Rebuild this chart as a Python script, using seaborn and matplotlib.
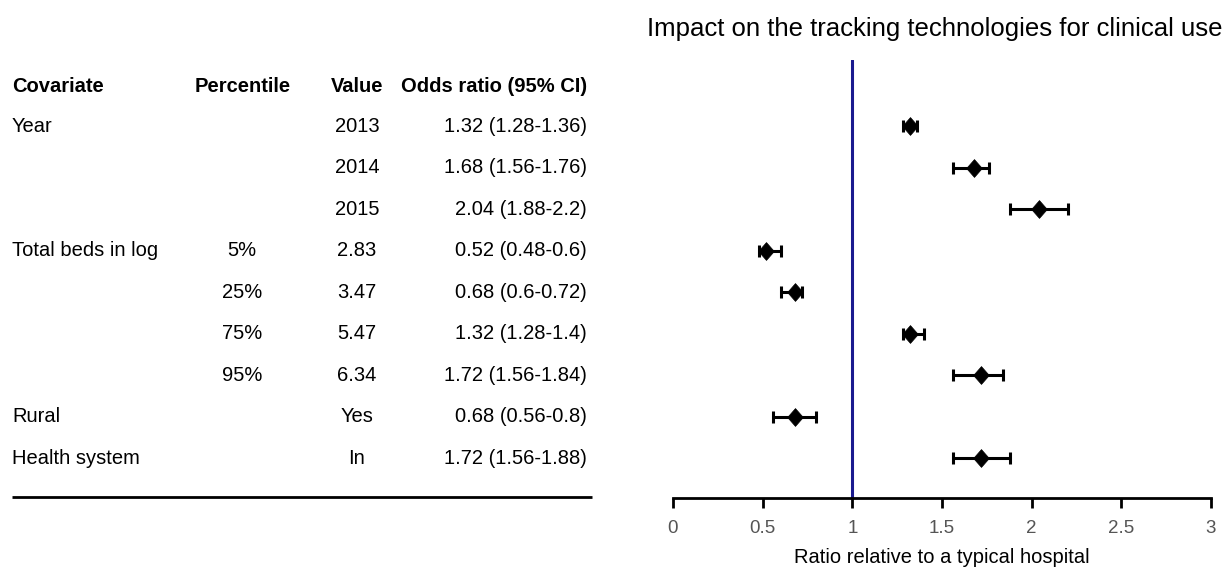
import matplotlib
matplotlib.use("Agg")
import matplotlib.pyplot as plt
import seaborn as sns
import pandas as pd
import numpy as np
from matplotlib.path import Path

# Table columns
covariates = ["Year", "", "", "Total beds in log", "", "", "", "Rural", "Health system"]
percentiles = ["", "", "", "5%", "25%", "75%", "95%", "", ""]
values = ["2013", "2014", "2015", "2.83", "3.47", "5.47", "6.34", "Yes", "In"]

# Odds ratios and 95% confidence limits
odds_ratio = [1.32, 1.68, 2.04, 0.52, 0.68, 1.32, 1.72, 0.68, 1.72]
ci_low = [1.28, 1.56, 1.88, 0.48, 0.60, 1.28, 1.56, 0.56, 1.56]
ci_high = [1.36, 1.76, 2.20, 0.60, 0.72, 1.40, 1.84, 0.80, 1.88]

headers = ["Covariate", "Percentile", "Value", "Odds ratio (95% CI)"]
x_ticks = [0, 0.5, 1, 1.5, 2, 2.5, 3]

sns.set_theme(style="white")
plt.rcParams["font.family"] = ["Liberation Sans", "DejaVu Sans"]
plt.rcParams["text.color"] = "black"
plt.rcParams["axes.labelcolor"] = "black"

W, H = 1225, 567
fig = plt.figure(figsize=(W / 100, H / 100), dpi=100)

n = len(odds_ratio)
rows = np.arange(n)
ylim = (8.96, -1.59)

ax_bottom = 1 - 498 / H
ax_height = (498 - 60) / H

# Forest plot panel
ax = fig.add_axes([673 / W, ax_bottom, (1211 - 673) / W, ax_height])
df = pd.DataFrame({"row": rows, "or": odds_ratio, "lo": ci_low, "hi": ci_high})

ax.axvline(1, color="#1a1a8f", lw=2.2, zorder=1)
ax.errorbar(df["or"], df["row"],
            xerr=[df["or"] - df["lo"], df["hi"] - df["or"]],
            fmt="none", ecolor="black", elinewidth=2.2, capsize=4, capthick=2.2, zorder=2)

diamond = Path([(0, 1), (0.88, 0), (0, -1), (-0.88, 0), (0, 1)],
               [Path.MOVETO, Path.LINETO, Path.LINETO, Path.LINETO, Path.CLOSEPOLY])
sns.scatterplot(data=df, x="or", y="row", marker=diamond, s=165, color="black",
                edgecolor="black", linewidth=0.5, ax=ax, zorder=3, legend=False)

ax.set_xlim(0, 3)
ax.set_ylim(*ylim)
ax.set_xticks(x_ticks)
ax.set_xticklabels([f"{t:g}" for t in x_ticks])
ax.set_yticks([])
for s in ["top", "right", "left"]:
    ax.spines[s].set_visible(False)
ax.spines["bottom"].set_linewidth(2)
ax.spines["bottom"].set_color("black")
ax.tick_params(axis="x", direction="out", length=7, width=2, color="black",
               labelsize=13.5, labelcolor="#555555", pad=9, bottom=True)
ax.set_xlabel("Ratio relative to a typical hospital", fontsize=14.5, labelpad=8)
ax.set_ylabel("")
ax.set_title("Impact on the tracking technologies for clinical use", fontsize=18.5,
             pad=17, x=(935 - 673) / (1211 - 673))
ax.patch.set_alpha(0)

# Table panel
at = fig.add_axes([0, ax_bottom, 620 / W, ax_height])
at.set_xlim(0, 620)
at.set_ylim(*ylim)
at.axis("off")

fs = 14.5
hy = -0.96
at.text(12, hy, headers[0], ha="left", va="center", fontsize=fs, fontweight="bold")
at.text(243, hy, headers[1], ha="center", va="center", fontsize=fs, fontweight="bold")
at.text(357, hy, headers[2], ha="center", va="center", fontsize=fs, fontweight="bold")
at.text(587, hy, headers[3], ha="right", va="center", fontsize=fs, fontweight="bold")

for i in range(n):
    at.text(12, i, covariates[i], ha="left", va="center", fontsize=fs)
    at.text(242, i, percentiles[i], ha="center", va="center", fontsize=fs)
    at.text(357, i, values[i], ha="center", va="center", fontsize=fs)
    label = f"{odds_ratio[i]:g} ({ci_low[i]:g}-{ci_high[i]:g})"
    at.text(587, i, label, ha="right", va="center", fontsize=fs)

at.plot([12, 592], [8.94, 8.94], color="black", lw=2, solid_capstyle="butt", clip_on=False)

fig.savefig("out.png", dpi=100)
